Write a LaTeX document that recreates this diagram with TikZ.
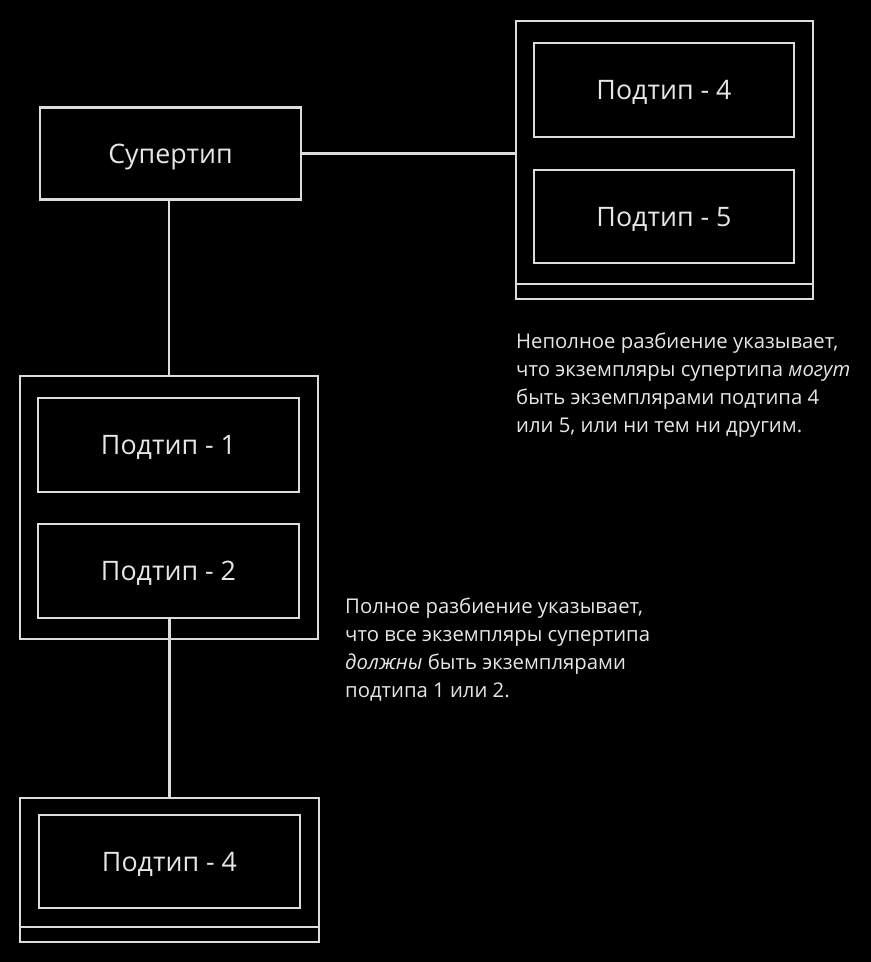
\documentclass[tikz,border=0pt]{standalone}
\usepackage{fontspec}
\setmainfont{Open Sans}
\definecolor{linec}{HTML}{DCDCDC}
\definecolor{textc}{HTML}{E6E6E6}
\begin{document}
\begin{tikzpicture}[x=1bp,y=-1bp,
  box/.style={draw=linec, line width=2.4bp, minimum width=#1, inner sep=0pt},
  label/.style={box=260bp, minimum height=93bp, text=textc, font=\fontsize{26.8bp}{30bp}\selectfont, text height=19.1bp, text depth=0pt},
  outer/.style={draw=linec, line width=2.4bp, inner sep=0pt},
  conn/.style={draw=linec, line width=2.4bp},
  note/.style={text=textc, align=left, inner sep=0pt, anchor=north west, font=\fontsize{20.3bp}{28bp}\selectfont}]
\fill[black] (0,0) rectangle (871,962);
\useasboundingbox (0,0) rectangle (871,962);
% supertype
\node[label, minimum width=261bp, minimum height=92bp] (sup) at (170.5,153.5) {Супертип};
% right group
\node[outer, minimum width=297bp, minimum height=278bp] (rout) at (664.5,160) {};
\draw[conn] ([yshift=16bp]rout.south west) -- ([yshift=16bp]rout.south east);
\node[label, minimum height=94bp] (s4a) at (664,90) {Подтип - 4};
\node[label] (s5) at (664,216.5) {Подтип - 5};
% left group
\node[outer, minimum width=298bp, minimum height=263bp] (lout) at (169,507.5) {};
\node[label, minimum width=261bp, minimum height=94bp] (s1) at (168.5,445) {Подтип - 1};
\node[label, minimum width=261bp, minimum height=94bp] (s2) at (168.5,571) {Подтип - 2};
% bottom group
\node[outer, minimum width=299bp, minimum height=144bp] (bout) at (169.5,870) {};
\draw[conn] ([yshift=16bp]bout.south west) -- ([yshift=16bp]bout.south east);
\node[label, minimum width=261bp] (s4b) at (169.5,861.5) {Подтип - 4};
% connectors
\draw[conn] (sup.east) -- (sup.east -| rout.west);
\draw[conn] (sup.south -| lout.north) -- (lout.north);
\draw[conn] (s2.south -| bout.north) -- (bout.north);
% notes
\node[note] (n1) at (516,333) {Неполное разбиение указывает,\\что экземпляры супертипа \textit{могут}\\быть экземплярами подтипа 4\\или 5, или ни тем ни другим.};
\node[note] (n2) at (345,598) {Полное разбиение указывает,\\что все экземпляры супертипа\\\textit{должны} быть экземплярами\\подтипа 1 или 2.};
\end{tikzpicture}
\end{document}
